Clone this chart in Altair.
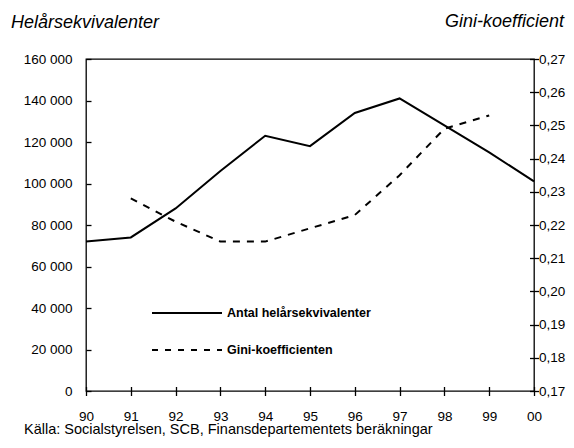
import altair as alt
import pandas as pd

years = [1990, 1991, 1992, 1993, 1994, 1995, 1996, 1997, 1998, 1999, 2000]
antal = [72000, 74000, 88000, 106000, 123000, 118000, 134000, 141000, 128000, 115000, 101000]
gini_years = [1991, 1992, 1993, 1994, 1995, 1996, 1997, 1998, 1999]
gini = [0.228, 0.221, 0.215, 0.215, 0.219, 0.223, 0.235, 0.249, 0.253]
left_ticks = [0, 20000, 40000, 60000, 80000, 100000, 120000, 140000, 160000]
right_ticks = [0.17, 0.18, 0.19, 0.20, 0.21, 0.22, 0.23, 0.24, 0.25, 0.26, 0.27]
legend_labels = ["Antal helårsekvivalenter", "Gini-koefficienten"]
left_title = "Helårsekvivalenter"
right_title = "Gini-koefficient"
source = "Källa: Socialstyrelsen, SCB, Finansdepartementets beräkningar"

FONT = "Liberation Sans"
W, H = 448, 332

df_a = pd.DataFrame({"year": years, "v": antal})
df_g = pd.DataFrame({"year": gini_years, "g": gini})

xs = alt.Scale(domain=[1990, 2000], nice=False, zero=False)
ys_l = alt.Scale(domain=[0, 160000], nice=False, zero=False)
ys_r = alt.Scale(domain=[0.17, 0.27], nice=False, zero=False)

lbl_expr = "substring(toString(datum.value), 2)"

solid = alt.Chart(df_a).mark_line(color="black", strokeWidth=2).encode(
    x=alt.X("year:Q", scale=xs, axis=alt.Axis(orient="bottom", values=years, labelExpr=lbl_expr,
                                              ticks=False, tickSize=0, domain=False, labelPadding=18,
                                              grid=False, title=None, labelFlush=False)),
    y=alt.Y("v:Q", scale=ys_l, axis=alt.Axis(orient="left", values=left_ticks, format=",.0f",
                                            ticks=False, tickSize=0, domain=False, labelPadding=14,
                                            grid=False, title=None)),
)

dashed = alt.Chart(df_g).mark_line(color="black", strokeWidth=2, strokeDash=[7, 7]).encode(
    x=alt.X("year:Q", scale=xs, axis=alt.Axis(orient="bottom", values=years, labels=False,
                                              offset=-4.5, tickSize=9, domain=False, grid=False,
                                              title=None)),
    y=alt.Y("g:Q", scale=ys_r, axis=alt.Axis(orient="right", values=right_ticks, format=".2f",
                                            offset=-4.5, tickSize=9, domain=False, labelPadding=0,
                                            grid=False, title=None)),
)

ticks_left = alt.Chart(df_a).mark_line(opacity=0).encode(
    x=alt.X("year:Q", scale=xs, axis=None),
    y=alt.Y("v:Q", scale=ys_l, axis=alt.Axis(orient="left", values=left_ticks, labels=False,
                                            offset=-5, tickSize=5, domain=False, grid=False,
                                            title=None)),
)

df_leg = pd.DataFrame({"label": legend_labels})
leg_solid = alt.Chart(df_leg.iloc[[0]]).mark_rule(color="black", strokeWidth=2).encode(
    x=alt.value(66), x2=alt.value(136), y=alt.value(254))
leg_dash = alt.Chart(df_leg.iloc[[1]]).mark_rule(color="black", strokeWidth=2, strokeDash=[6, 7]).encode(
    x=alt.value(66), x2=alt.value(136), y=alt.value(291))
leg_t1 = alt.Chart(df_leg.iloc[[0]]).mark_text(font=FONT, fontSize=12.5, fontWeight="bold", align="left",
                                               baseline="middle", color="black").encode(
    text="label:N", x=alt.value(141), y=alt.value(254))
leg_t2 = alt.Chart(df_leg.iloc[[1]]).mark_text(font=FONT, fontSize=12.5, fontWeight="bold", align="left",
                                               baseline="middle", color="black").encode(
    text="label:N", x=alt.value(141), y=alt.value(291))

df_lt = pd.DataFrame({"t": [left_title]})
df_rt = pd.DataFrame({"t": [right_title]})
df_src = pd.DataFrame({"t": [source]})
t_left = alt.Chart(df_lt).mark_text(font=FONT, fontSize=18, fontStyle="italic", align="left",
                                    baseline="alphabetic", color="black").encode(
    text="t:N", x=alt.value(-75), y=alt.value(-31))
t_right = alt.Chart(df_rt).mark_text(font=FONT, fontSize=18, fontStyle="italic", align="right",
                                     baseline="alphabetic", color="black").encode(
    text="t:N", x=alt.value(W + 30), y=alt.value(-32))
t_src = alt.Chart(df_src).mark_text(font=FONT, fontSize=14.5, align="left",
                                    baseline="alphabetic", color="black").encode(
    text="t:N", x=alt.value(-62), y=alt.value(375))

chart = alt.layer(solid, dashed, ticks_left, leg_solid, leg_dash, leg_t1, leg_t2,
                  t_left, t_right, t_src).resolve_scale(
    x="independent", y="independent"
).properties(
    width=W, height=H,
    autosize=alt.AutoSizeParams(type="none"),
    padding={"left": 78, "top": 51, "right": 32, "bottom": 49},
).configure(
    locale={"number": {"decimal": ",", "thousands": " ", "grouping": [3], "currency": ["", ""]}}
).configure_view(
    stroke="black", strokeWidth=1.3
).configure_axis(
    labelFont=FONT, labelFontSize=13.5, labelColor="black", tickColor="black",
    tickWidth=1.3, domainColor="black"
)

chart.save("out.html", embed_options={"renderer": "svg", "actions": False})
